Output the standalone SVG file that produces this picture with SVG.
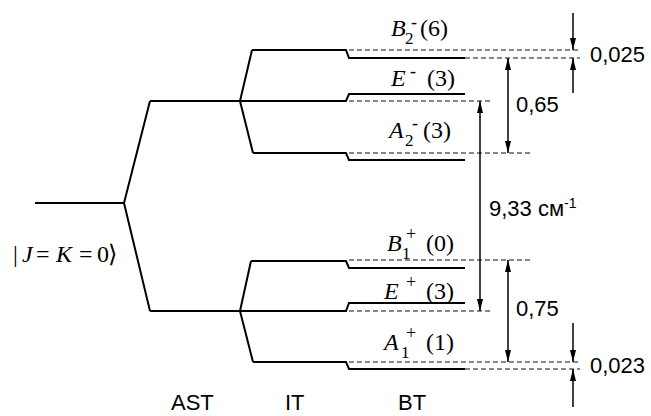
<svg xmlns="http://www.w3.org/2000/svg" width="651" height="416" viewBox="0 0 651 416">
<style>
.lv{fill:none;stroke:#000;stroke-width:2;stroke-linejoin:miter}
.ds{fill:none;stroke:#111;stroke-width:1;stroke-dasharray:5 3}
.ar{fill:none;stroke:#000;stroke-width:1.5}
.sa{font-family:"Liberation Sans",Arial,sans-serif;font-size:22px;fill:#000}
.tm{font-family:"Liberation Serif","Times New Roman",serif;font-size:24px;fill:#000}
.it{font-style:italic}
.sub{font-size:17px}
.sup{font-size:18px}
</style>
<defs>
<marker id="ah" viewBox="0 0 12 6" refX="12" refY="3" markerWidth="12" markerHeight="6" markerUnits="userSpaceOnUse" orient="auto-start-reverse">
<path d="M0,0 L12,3 L0,6 z" fill="#000"/>
</marker>
</defs>
<rect width="651" height="416" fill="#fff"/>

<g id="ground">
<path class="lv" d="M35,203 H124"/>
<text class="tm" x="13" y="262" font-size="22"><tspan>|</tspan><tspan class="it" x="22">J</tspan><tspan x="36">=</tspan><tspan class="it" x="56">K</tspan><tspan x="79">=</tspan><tspan x="97">0</tspan><tspan x="108">⟩</tspan></text>
</g>

<g id="ast">
<path class="lv" d="M150,101 L124,203 L150,311"/>
<text class="sa" x="171" y="410">AST</text>
</g>

<g id="it-upper">
<path class="lv" d="M150,101 H240 M240,101 L252,50 M240,101 L253,153"/>
</g>
<g id="it-lower">
<path class="lv" d="M150,311 H240 M240,311 L251,261 M240,311 L253,362"/>
<text class="sa" x="285" y="410">IT</text>
</g>

<g id="B2m">
<path class="lv" d="M252,50 H346 L349,58 H465"/>
<text class="tm"><tspan class="it" x="391" y="36">B</tspan><tspan class="sub" x="405" y="44">2</tspan><tspan class="sup" x="411" y="28">-</tspan><tspan x="420" y="36">(6)</tspan></text>
</g>
<g id="Em">
<path class="lv" d="M240,101 H346 L349,94 H465"/>
<text class="tm"><tspan class="it" x="391" y="86">E</tspan><tspan class="sup" x="410" y="77">-</tspan><tspan x="427" y="86">(3)</tspan></text>
</g>
<g id="A2m">
<path class="lv" d="M253,153 H346 L349,160 H465"/>
<text class="tm"><tspan class="it" x="389" y="138">A</tspan><tspan class="sub" x="405" y="146">2</tspan><tspan class="sup" x="412" y="129">-</tspan><tspan x="423" y="138">(3)</tspan></text>
</g>
<g id="B1p">
<path class="lv" d="M251,261 H346 L349,268 H465"/>
<text class="tm"><tspan class="it" x="387" y="251">B</tspan><tspan class="sub" x="402" y="259">1</tspan><tspan class="sup" x="406" y="240">+</tspan><tspan x="426" y="251">(0)</tspan></text>
</g>
<g id="Ep">
<path class="lv" d="M240,311 H346 L349,303 H465"/>
<text class="tm"><tspan class="it" x="384" y="299">E</tspan><tspan class="sup" x="406" y="288">+</tspan><tspan x="426" y="299">(3)</tspan></text>
</g>
<g id="A1p">
<path class="lv" d="M253,362 H346 L349,369 H465"/>
<text class="tm"><tspan class="it" x="384" y="350">A</tspan><tspan class="sub" x="401" y="358">1</tspan><tspan class="sup" x="406" y="339">+</tspan><tspan x="426" y="350">(1)</tspan></text>
<text class="sa" x="398" y="410">BT</text>
</g>

<g id="connectors">
<path class="ds" d="M349,50 H580 M465,58 H580 M349,101 H493 M349,153 H533 M349,260 H532 M349,311 H493 M349,362 H580 M465,369 H580"/>
<line class="ar" x1="573" y1="13" x2="573" y2="50" marker-end="url(#ah)"/>
<line class="ar" x1="573" y1="93" x2="573" y2="58" marker-end="url(#ah)"/>
<line class="ar" x1="573" y1="323" x2="573" y2="362" marker-end="url(#ah)"/>
<line class="ar" x1="573" y1="407" x2="573" y2="369" marker-end="url(#ah)"/>
<line class="ar" x1="508" y1="58" x2="508" y2="153" marker-start="url(#ah)" marker-end="url(#ah)"/>
<line class="ar" x1="480" y1="101" x2="480" y2="311" marker-start="url(#ah)" marker-end="url(#ah)"/>
<line class="ar" x1="508" y1="260" x2="508" y2="362" marker-start="url(#ah)" marker-end="url(#ah)"/>
<text class="sa" x="590" y="62">0,025</text>
<text class="sa" x="516" y="112">0,65</text>
<text class="sa" x="489" y="216">9,33 см<tspan font-size="14" dy="-8">-1</tspan></text>
<text class="sa" x="516" y="316">0,75</text>
<text class="sa" x="590" y="373">0,023</text>
</g>
</svg>
